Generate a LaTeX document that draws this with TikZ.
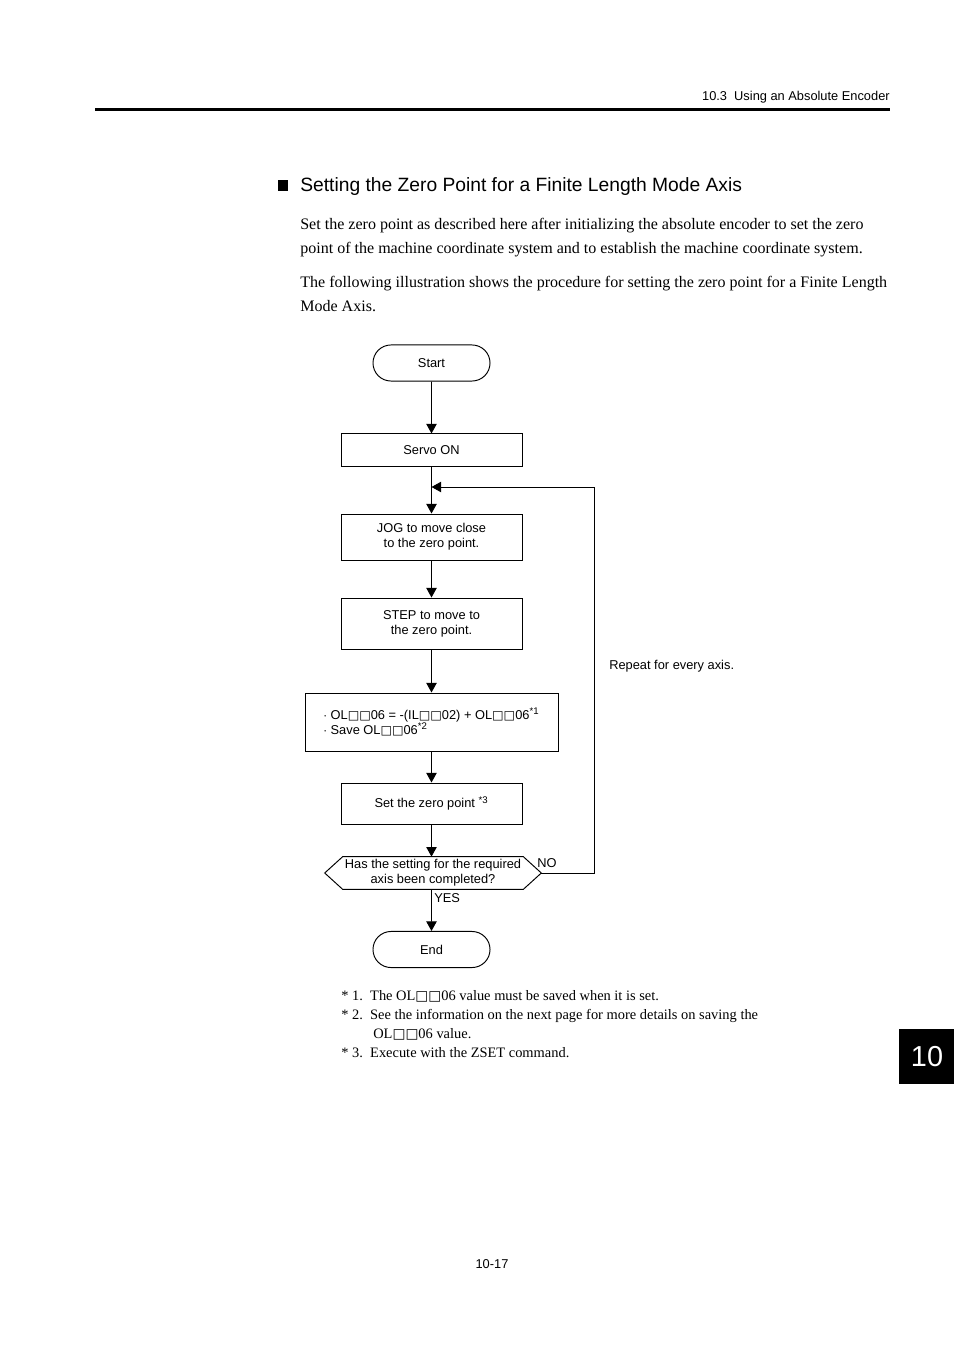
\documentclass[tikz,border=0pt]{standalone}
\usepackage{fontspec}
\setmainfont{Liberation Serif}
\setsansfont{Liberation Sans}
\newfontfamily\symfont{DejaVu Sans}
\usepackage{tikz}
\usetikzlibrary{arrows.meta,calc,shapes.misc}
\definecolor{ink}{HTML}{000000}
\definecolor{paper}{HTML}{FFFFFF}
\tikzset{
  flow/.style={-{Triangle[width=6.5pt,length=6pt]}, draw=ink, line width=0.6pt},
  link/.style={draw=ink, line width=0.6pt},
  stepbox/.style={rectangle, draw=ink, line width=0.6pt, minimum width=112.9pt,
    font=\sffamily\fontsize{8}{9.5}\selectfont, align=center, inner sep=0pt},
  termbox/.style={rounded rectangle, draw=ink, line width=0.6pt, minimum width=73pt,
    minimum height=22.5pt, font=\sffamily\fontsize{8}{9.5}\selectfont, inner sep=0pt},
  body/.style={anchor=base west, inner sep=0pt, font=\fontsize{10}{12}\selectfont},
  note/.style={anchor=base west, inner sep=0pt, font=\fontsize{9}{11}\selectfont},
  small/.style={inner sep=0pt, font=\sffamily\fontsize{8}{9.5}\selectfont}
}
\newcommand{\Sq}{{\symfont\bfseries\fontsize{0.95em}{1em}\selectfont\char"25A1}}
\newcommand{\Reg}{OL\Sq\Sq06}

\begin{document}
\begin{tikzpicture}[x=0.6237pt, y=-0.6237pt]
  \useasboundingbox (0,0) rectangle (954,1351);
  % page header
  \node[small, anchor=base east] (head) at (890,101) {10.3\ \ Using an Absolute Encoder};
  \fill[ink] (95,108) rectangle (890,111.5);
  % section title and text
  \fill[ink] (278,180) rectangle (288,191);
  \node[anchor=base west, inner sep=0pt, font=\sffamily\fontsize{12}{14}\selectfont] (title) at (300,192) {Setting the Zero Point for a Finite Length Mode Axis};
  \node[body] (p1a) at (300,230) {Set the zero point as described here after initializing the absolute encoder to set the zero};
  \node[body] (p1b) at (300,254) {point of the machine coordinate system and to establish the machine coordinate system.};
  \node[body] (p2a) at (300,288) {The following illustration shows the procedure for setting the zero point for a Finite Length};
  \node[body] (p2b) at (300,312) {Mode Axis.};

  % flowchart
  \node[termbox] (start) at (431.5,363) {Start};
  \node[stepbox, minimum height=20pt] (servo) at (431.5,450) {Servo ON};
  \node[stepbox, minimum height=28.7pt] (jog) at (431.5,537) {JOG to move close\\to the zero point.};
  \node[stepbox, minimum height=31.8pt] (stepz) at (431.5,623.5) {STEP to move to\\the zero point.};
  \node[stepbox, minimum width=157.8pt, minimum height=36.2pt] (calc) at (431.5,722) {};
  \node[small, anchor=base west, align=left] (calctxt) at (323,719)
    {$\cdot$ \Reg\ = -(IL\Sq\Sq02) + \Reg\textsuperscript{*1}};
  \node[small, anchor=base west, align=left] (savetxt) at (323,734)
    {$\cdot$ Save \Reg\textsuperscript{*2}};
  \node[stepbox, minimum height=25.6pt] (zero) at (431.5,803.5) {Set the zero point \textsuperscript{*3}};
  \node[small, minimum width=134.7pt, minimum height=20pt, align=center] (chk) at (433,873)
    {Has the setting for the required\\axis been completed?};
  \draw[link] (chk.west) -- ($(chk.north west)+(18,0)$) -- ($(chk.north east)+(-18,0)$)
    -- (chk.east) -- ($(chk.south east)+(-18,0)$) -- ($(chk.south west)+(18,0)$) -- cycle;
  \node[termbox] (finish) at (431.5,949.5) {End};

  \coordinate (merge) at (431.5,487);
  \coordinate (loopr) at (594,873);
  \draw[flow] (start) -- (servo);
  \draw[flow] (servo) -- (jog);
  \draw[flow] (jog) -- (stepz);
  \draw[flow] (stepz) -- (calc);
  \draw[flow] (calc) -- (zero);
  \draw[flow] (zero) -- (chk.north -| zero);
  \draw[flow] (chk.south -| finish) -- (finish);
  \draw[flow] (chk.east) -- (loopr) |- (merge);

  \node[small, anchor=base west] (no) at (537,867) {NO};
  \node[small, anchor=base west] (yes) at (434,902) {YES};
  \node[small, anchor=base west] (rep) at (609,669) {Repeat for every axis.};

  % notes
  \node[note] (n1) at (341,1000) {*\ 1.\ \ The \Reg\ value must be saved when it is set.};
  \node[note] (n2) at (341,1019) {*\ 2.\ \ See the information on the next page for more details on saving the};
  \node[note] (n2b) at (373,1038) {\Reg\ value.};
  \node[note] (n3) at (341,1057) {*\ 3.\ \ Execute with the ZSET command.};

  % chapter tab and page number
  \fill[ink] (899,1029) rectangle (954,1084);
  \node[inner sep=0pt, text=paper, font=\sffamily\fontsize{18}{20}\selectfont] (tab) at (927,1057) {10};
  \node[small, anchor=base] (page) at (492,1268) {10-17};
\end{tikzpicture}
\end{document}
